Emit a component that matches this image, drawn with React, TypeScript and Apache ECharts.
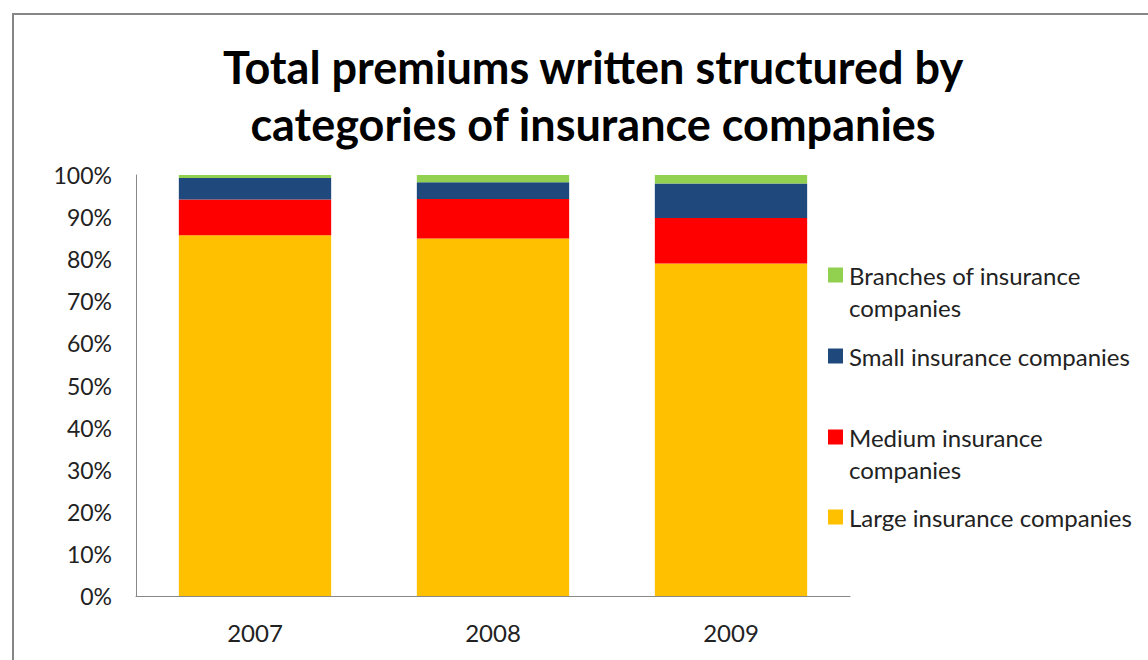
import React, { useEffect, useRef } from "react";
import * as echarts from "echarts";

const categories = ["2007", "2008", "2009"];
const seriesNames = [
  "Large insurance companies",
  "Medium insurance companies",
  "Small insurance companies",
  "Branches of insurance companies",
];
const largeValues = [85.7, 84.9, 79.0];
const mediumValues = [8.5, 9.4, 10.8];
const smallValues = [5.1, 4.0, 8.2];
const branchesValues = [0.7, 1.7, 2.0];
const colors = ["#FFC000", "#FF0000", "#1F497D", "#92D050"];
// legend first line / wrapped second line
const legendFirstLines: Record<string, string> = {
  "Branches of insurance companies": "Branches of insurance",
  "Small insurance companies": "Small insurance companies",
  "Medium insurance companies": "Medium insurance",
  "Large insurance companies": "Large insurance companies",
};
const legendSecondLines: Record<string, string> = {
  "Branches of insurance companies": "companies",
  "Medium insurance companies": "companies",
};
const titleText = "Total premiums written structured by\ncategories of insurance companies";

const FONT = "Lato, 'Open Sans', sans-serif";

export default function App() {
  const ref = useRef<HTMLDivElement>(null);
  useEffect(() => {
    if (!ref.current) return;
    const chart = echarts.init(ref.current, null, { renderer: "svg" });
    const values = [largeValues, mediumValues, smallValues, branchesValues];
    const legendCenters = [275, 356, 437, 517];
    const legendOrder = [3, 2, 1, 0];
    const LH = 32;
    const secondLineTexts: any[] = [];
    legendOrder.forEach((idx, i) => {
      const second = legendSecondLines[seriesNames[idx]];
      if (second) {
        secondLineTexts.push({
          type: "text",
          x: 849,
          y: legendCenters[i] + LH,
          silent: true,
          style: {
            text: second,
            fontFamily: FONT,
            fontSize: 24,
            fill: "#222222",
            verticalAlign: "middle",
            align: "left",
          },
        });
      }
    });
    chart.setOption({
      animation: false,
      backgroundColor: "#ffffff",
      textStyle: { fontFamily: FONT },
      title: {
        text: titleText,
        left: 588,
        textAlign: "center",
        top: 33,
        textStyle: {
          fontFamily: FONT,
          fontWeight: "bold",
          fontSize: 45,
          lineHeight: 57,
          color: "#000000",
        },
      },
      graphic: [
        {
          type: "rect",
          shape: { x: 13, y: 14, width: 1200, height: 700 },
          style: { fill: "none", stroke: "#868686", lineWidth: 2 },
          silent: true,
        },
        ...secondLineTexts,
      ],
      legend: legendOrder.map((idx, i) => ({
        data: [seriesNames[idx]],
        orient: "vertical",
        left: 828,
        top: legendCenters[i] - LH / 2,
        padding: 0,
        itemWidth: 15,
        itemHeight: 15,
        itemGap: 0,
        icon: "rect",
        selectedMode: false,
        formatter: (name: string) => legendFirstLines[name],
        textStyle: {
          fontFamily: FONT,
          fontSize: 24,
          lineHeight: LH,
          color: "#222222",
          padding: [0, 0, 0, 1],
        },
      })),
      grid: { left: 136, right: 298, top: 175, bottom: 64, containLabel: false },
      xAxis: {
        type: "category",
        data: categories,
        axisLine: { lineStyle: { color: "#888888", width: 1 } },
        axisTick: { show: false },
        axisLabel: {
          margin: 24,
          fontSize: 24,
          color: "#222222",
          fontFamily: FONT,
        },
      },
      yAxis: {
        type: "value",
        min: 0,
        max: 100,
        interval: 10,
        splitLine: { show: false },
        axisLine: { show: true, lineStyle: { color: "#888888", width: 1 } },
        axisTick: { show: false },
        axisLabel: {
          formatter: "{value}%",
          margin: 24,
          fontSize: 23,
          color: "#222222",
          fontFamily: FONT,
        },
      },
      series: seriesNames.map((name, i) => ({
        name,
        type: "bar",
        stack: "total",
        barWidth: "64%",
        data: values[i],
        itemStyle: { color: colors[i] },
      })),
    });
    return () => chart.dispose();
  }, []);
  return (
    <div
      ref={ref}
      style={{ position: "fixed", left: 0, top: 0, width: 1148, height: 660 }}
    />
  );
}
